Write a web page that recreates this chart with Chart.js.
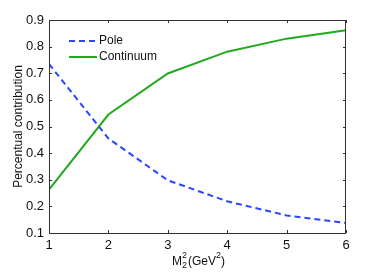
<!DOCTYPE html>
<html>
<head>
<meta charset="utf-8">
<script src="https://cdn.jsdelivr.net/npm/chart.js@4/dist/chart.umd.min.js"></script>
<style>
  html, body { margin: 0; padding: 0; background: #fff; }
  #wrap { width: 382px; height: 273px; }
</style>
</head>
<body>
<div id="wrap"><canvas id="c"></canvas></div>
<script>
// M2^2 values (GeV^2)
const masses = [1, 2, 3, 4, 5, 6];
const pole = [0.735, 0.455, 0.298, 0.219, 0.166, 0.138];
const continuum = [0.263, 0.545, 0.699, 0.781, 0.830, 0.862];
const yTicks = [0.1, 0.2, 0.3, 0.4, 0.5, 0.6, 0.7, 0.8, 0.9];

const FONT = "Liberation Sans, Arial, Helvetica, sans-serif";
const BLUE = "#2a46ff";
const GREEN = "#22aa1e";

// box around the axes with inward ticks, like matlab
const framePlugin = {
  id: "frame",
  afterDatasetsDraw(chart) {
    const { ctx, chartArea: a, scales } = chart;
    ctx.save();
    ctx.strokeStyle = "#333";
    ctx.lineWidth = 1;
    ctx.beginPath();
    ctx.rect(a.left + 0.5, a.top + 0.5, a.right - a.left - 1, a.bottom - a.top);
    ctx.stroke();
    ctx.beginPath();
    const t = 3;
    scales.x.ticks.forEach((tk) => {
      const px = Math.round(scales.x.getPixelForValue(tk.value)) + 0.5;
      ctx.moveTo(px, a.bottom); ctx.lineTo(px, a.bottom - t);
      ctx.moveTo(px, a.top); ctx.lineTo(px, a.top + t);
    });
    scales.y.ticks.forEach((tk) => {
      const py = Math.round(scales.y.getPixelForValue(tk.value)) + 0.5;
      ctx.moveTo(a.left, py); ctx.lineTo(a.left + t, py);
      ctx.moveTo(a.right, py); ctx.lineTo(a.right - t, py);
    });
    ctx.stroke();
    ctx.restore();
  },
  afterDraw(chart) {
    const { ctx, chartArea: a } = chart;
    ctx.save();
    // legend
    const items = chart.data.datasets;
    items.forEach((ds, i) => {
      const y = 41 + i * 16;
      ctx.strokeStyle = ds.borderColor;
      ctx.lineWidth = 2;
      ctx.setLineDash(ds.borderDash || []);
      ctx.beginPath();
      ctx.moveTo(69, y); ctx.lineTo(97, y);
      ctx.stroke();
      ctx.setLineDash([]);
      ctx.fillStyle = "#111";
      ctx.font = "12px " + FONT;
      ctx.textBaseline = "middle";
      ctx.textAlign = "left";
      ctx.fillText(ds.label, 99, y);
    });
    // x axis title M_2^2(GeV^2)
    const base = 265;
    ctx.fillStyle = "#111";
    ctx.textBaseline = "alphabetic";
    ctx.font = "12px " + FONT;
    const wM = ctx.measureText("M").width;
    const wRest = ctx.measureText("(GeV").width;
    const wClose = ctx.measureText(")").width;
    ctx.font = "9px " + FONT;
    const wS = ctx.measureText("2").width;
    const total = wM + wS + 1 + wRest + wS + wClose;
    let x = (a.left + a.right) / 2 - total / 2 + 1;
    ctx.textAlign = "left";
    ctx.font = "12px " + FONT;
    ctx.fillText("M", x, base); x += wM;
    ctx.font = "9px " + FONT;
    ctx.fillText("2", x, base - 7);
    ctx.fillText("2", x, base + 3); x += wS + 1;
    ctx.font = "12px " + FONT;
    ctx.fillText("(GeV", x, base); x += wRest;
    ctx.font = "9px " + FONT;
    ctx.fillText("2", x, base - 7); x += wS;
    ctx.font = "12px " + FONT;
    ctx.fillText(")", x, base);
    ctx.restore();
  }
};

new Chart(document.getElementById("c"), {
  type: "line",
  data: {
    datasets: [
      {
        label: "Pole",
        data: masses.map((m, i) => ({ x: m, y: pole[i] })),
        borderColor: BLUE,
        borderWidth: 2,
        borderDash: [6, 4],
        pointRadius: 0,
        tension: 0,
      },
      {
        label: "Continuum",
        data: masses.map((m, i) => ({ x: m, y: continuum[i] })),
        borderColor: GREEN,
        borderWidth: 2,
        pointRadius: 0,
        tension: 0,
      },
    ],
  },
  options: {
    responsive: true,
    maintainAspectRatio: false,
    animation: false,
    layout: { padding: { left: 0, top: 20, right: 36, bottom: 0 } },
    plugins: { legend: { display: false }, tooltip: { enabled: false } },
    scales: {
      x: {
        type: "linear",
        min: 1,
        max: 6,
        grid: { display: false, drawTicks: false },
        border: { display: false },
        ticks: {
          stepSize: 1,
          padding: 5,
          color: "#111",
          font: { family: FONT, size: 13 },
          maxRotation: 0,
        },
        afterFit(scale) { scale.height = 40; },
      },
      y: {
        min: 0.1,
        max: 0.9,
        grid: { display: false, drawTicks: false },
        border: { display: false },
        afterBuildTicks(scale) { scale.ticks = yTicks.map((v) => ({ value: v })); },
        ticks: {
          padding: 5,
          color: "#111",
          font: { family: FONT, size: 13 },
          callback: (v) => v.toFixed(1),
        },
        title: {
          display: true,
          text: "Percentual contribution",
          color: "#111",
          font: { family: FONT, size: 12 },
          padding: { top: 11, bottom: 0 },
        },
        afterFit(scale) { scale.width = 49; },
      },
    },
  },
  plugins: [framePlugin],
});
</script>
</body>
</html>
